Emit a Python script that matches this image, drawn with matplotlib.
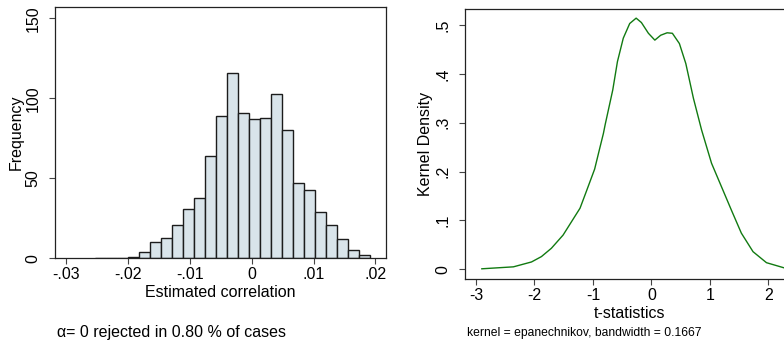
import numpy as np
import matplotlib
matplotlib.use('Agg')
import matplotlib.pyplot as plt

plt.rcParams['font.family'] = ['Liberation Sans', 'DejaVu Sans']
plt.rcParams['axes.unicode_minus'] = False

# histogram of estimated correlations (25 bins)
bin_start = -0.02533
bin_width = 0.001777
counts = [0, 0, 0, 1, 4, 10, 13, 21, 31, 38, 64, 89, 116,
          91, 87, 88, 103, 80, 47, 43, 29, 21, 12, 5, 2]
hist_xticks = [-0.03, -0.02, -0.01, 0, 0.01, 0.02]
hist_xlabels = ['-.03', '-.02', '-.01', '0', '.01', '.02']
hist_yticks = [0, 50, 100, 150]

# kernel density of t-statistics
t_vals = [-2.90, -2.36, -2.05, -1.88, -1.71, -1.51, -1.22, -1.11, -0.97,
          -0.88, -0.82, -0.79, -0.66, -0.58, -0.48, -0.37, -0.26, -0.17,
          -0.05, 0.06, 0.16, 0.27, 0.36, 0.48, 0.59, 0.72, 0.86, 1.03,
          1.20, 1.37, 1.54, 1.74, 1.97, 2.27]
dens = [0.001, 0.005, 0.015, 0.026, 0.043, 0.070, 0.125, 0.160, 0.205,
        0.249, 0.278, 0.296, 0.367, 0.425, 0.473, 0.503, 0.514, 0.505,
        0.483, 0.469, 0.479, 0.484, 0.483, 0.462, 0.421, 0.350, 0.285,
        0.217, 0.169, 0.121, 0.074, 0.036, 0.0135, 0.003]
kd_xticks = [-3, -2, -1, 0, 1, 2]
kd_yticks = [0, 0.1, 0.2, 0.3, 0.4, 0.5]
kd_ylabels = ['0', '.1', '.2', '.3', '.4', '.5']

FS = 11.5
W, H = 784, 347


def style_axes(ax):
    for s in ax.spines.values():
        s.set_linewidth(0.9)
        s.set_color('#222222')
    ax.tick_params(axis='both', direction='out', length=4.5, width=0.8,
                   color='#444444', labelsize=FS)
    ax.tick_params(axis='x', pad=2)
    ax.tick_params(axis='y', pad=6)
    for lab in ax.get_yticklabels():
        lab.set_rotation(90)
        lab.set_va('center')


fig = plt.figure(figsize=(W / 100, H / 100), dpi=100)

# left panel
ax1 = fig.add_axes([55 / W, 1 - 258.3 / H, 330.7 / W, 251.6 / H])
edges = bin_start + bin_width * np.arange(len(counts))
ax1.bar(edges, counts, width=bin_width, align='edge', color='#d9e4ea',
        edgecolor='#1c1c1c', linewidth=1.0)
ax1.set_xlim(-0.03183, 0.02165)
ax1.set_ylim(0, 157.25)
ax1.set_xticks(hist_xticks)
ax1.set_xticklabels(hist_xlabels)
ax1.set_yticks(hist_yticks)
style_axes(ax1)
ax1.set_xlabel('Estimated correlation', fontsize=FS)
ax1.set_ylabel('Frequency', fontsize=FS)
ax1.xaxis.set_label_coords(0.5, -0.108)
ax1.yaxis.set_label_coords(-0.094, 0.5)
fig.text(57 / W, 1 - 332 / H, '\u03b1= 0 rejected in 0.80 % of cases',
         fontsize=FS, va='center', ha='left')

# right panel
ax2 = fig.add_axes([465 / W, 1 - 279.3 / H, 330 / W, 270.3 / H])
ax2.plot(t_vals, dens, color='#117a11', linewidth=1.0)
ax2.set_xlim(-3.188, 2.458)
ax2.set_ylim(-0.0205, 0.5327)
ax2.set_xticks(kd_xticks)
ax2.set_xticklabels([str(v) for v in kd_xticks])
ax2.set_yticks(kd_yticks)
ax2.set_yticklabels(kd_ylabels)
style_axes(ax2)
ax2.set_xlabel('t-statistics', fontsize=FS)
ax2.set_ylabel('Kernel Density', fontsize=FS)
ax2.xaxis.set_label_coords(0.5, -0.098)
ax2.yaxis.set_label_coords(-0.096, 0.5)
fig.text(467 / W, 1 - 333 / H, 'kernel = epanechnikov, bandwidth = 0.1667',
         fontsize=8.7, va='center', ha='left')

fig.savefig('out.png', dpi=100)
